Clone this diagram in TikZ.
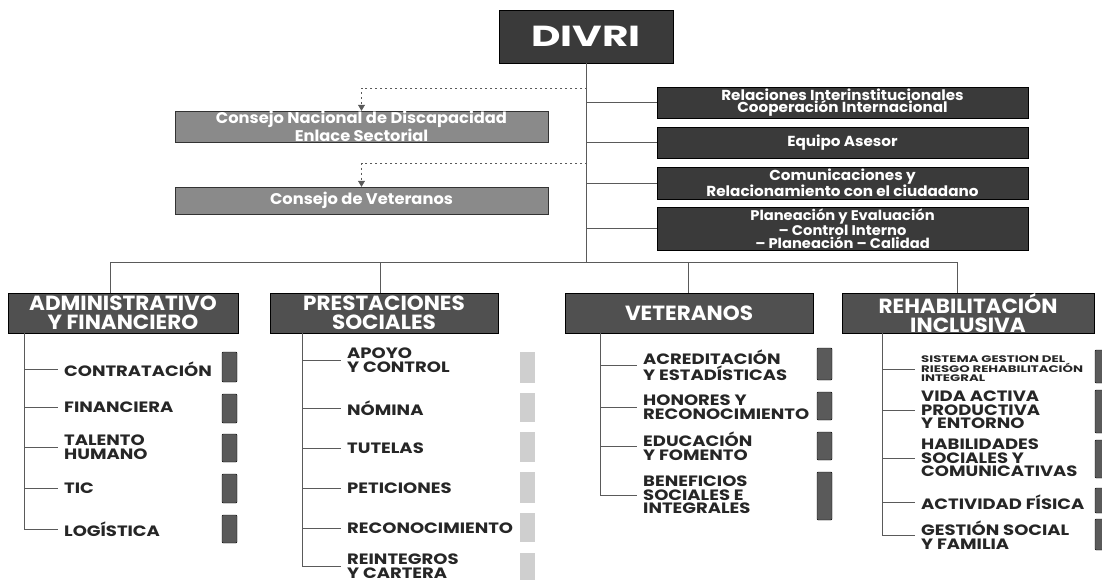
\documentclass[tikz,border=0pt]{standalone}
\usepackage{fontspec}
\setmainfont{Poppins}
\newfontfamily\lblfont[FakeStretch=1.2]{Poppins}
\newfontfamily\widefont[FakeStretch=1.4]{Poppins}
\newfontfamily\hdrfont[FakeStretch=1.05]{Poppins}
\newfontfamily\topfont[FakeStretch=1.4]{Poppins}
\usetikzlibrary{arrows.meta}
\definecolor{boxdark}{HTML}{3A3A3A}
\definecolor{boxmid}{HTML}{505050}
\definecolor{boxgray}{HTML}{8A8A8A}
\definecolor{tabdark}{HTML}{5A5A5A}
\definecolor{tablt}{HTML}{CFCFCF}
\definecolor{linec}{HTML}{5A5A5A}
\tikzset{
  darkbox/.style={draw=black, fill=boxdark, text=white, inner sep=0pt, align=center,
    font=\hdrfont\bfseries\fontsize{14.5}{12.5}\selectfont},
  graybox/.style={draw=black!80, fill=boxgray, text=white, inner sep=0pt, align=center,
    font=\hdrfont\bfseries\fontsize{15.5}{13}\selectfont},
  hdrbox/.style={draw=black, fill=boxmid, text=white, inner sep=0pt, align=center,
    minimum height=40pt, font=\hdrfont\bfseries\fontsize{20.5}{19}\selectfont},
  lbl/.style={anchor=west, inner xsep=6pt, inner ysep=0pt, align=left, text=black!85,
    font=\lblfont\bfseries\fontsize{15}{13.5}\selectfont},
  smalllbl/.style={lbl, font=\widefont\bfseries\fontsize{9.5}{9.5}\selectfont},
  tabd/.style={draw=black, fill=tabdark, inner sep=0pt, minimum width=15pt, rounded corners=1pt},
  tabl/.style={draw=none, fill=tablt, inner sep=0pt, minimum width=15pt},
  conn/.style={draw=linec, line width=0.7pt},
  dasharr/.style={draw=linec, line width=0.7pt, dash pattern=on 2pt off 3pt,
    -{Triangle[length=6pt,width=7pt]}},
}
\begin{document}
\begin{tikzpicture}[x=1pt,y=-1pt]
\useasboundingbox (0,0) rectangle (1102,583);
% top
\node[darkbox, minimum width=174pt, minimum height=53pt, font=\topfont\bfseries\fontsize{29}{29}\selectfont] (divri) at (586,36.5) {DIVRI};
% right boxes
\node[darkbox, minimum width=371pt, minimum height=31pt] (r1) at (842.5,102.5) {Relaciones Interinstitucionales\\Cooperación Internacional};
\node[darkbox, minimum width=371pt, minimum height=31pt] (r2) at (842.5,142.5) {Equipo Asesor};
\node[darkbox, minimum width=371pt, minimum height=32pt] (r3) at (842.5,183) {Comunicaciones y\\Relacionamiento con el ciudadano};
\node[darkbox, minimum width=371pt, minimum height=43pt, font=\hdrfont\bfseries\fontsize{14}{11.5}\selectfont] (r4) at (842.5,228.5) {Planeación y Evaluación\\– Control Interno\\– Planeación – Calidad};
% left gray boxes
\node[graybox, minimum width=373pt, minimum height=31pt] (c1) at (361.5,126.5) {Consejo Nacional de Discapacidad\\Enlace Sectorial};
\node[graybox, minimum width=373pt, minimum height=27pt] (c2) at (361.5,200.5) {Consejo de Veteranos};
% category headers
\node[hdrbox, minimum width=230pt] (h1) at (123,313) {ADMINISTRATIVO\\Y FINANCIERO};
\node[hdrbox, minimum width=228pt] (h2) at (384,313) {PRESTACIONES\\SOCIALES};
\node[hdrbox, minimum width=248pt] (h3) at (689,313) {VETERANOS};
\node[hdrbox, minimum width=252pt] (h4) at (968,313) {REHABILITACIÓN\\INCLUSIVA};
% trunk and bus
\coordinate (busL) at (110,262);
\coordinate (busR) at (957,262);
\coordinate (drop2) at (380,262);
\coordinate (drop3) at (688,262);
\coordinate (k1) at (587,88);
\coordinate (k2) at (587,163);
\draw[conn] (divri.south) -- (divri.south |- busL);
\draw[conn] (busL) -- (busR);
\draw[conn] (busL) -- (busL |- h1.north);
\draw[conn] (drop2) -- (drop2 |- h2.north);
\draw[conn] (drop3) -- (drop3 |- h3.north);
\draw[conn] (busR) -- (busR |- h4.north);
\foreach \r in {r1,r2,r3,r4} \draw[conn] (\r.west -| divri.south) -- (\r.west);
\draw[dasharr] (k1) -| (c1.north);
\draw[dasharr] (k2) -| (c2.north);
% ---- Administrativo
\coordinate (t1) at (24,333);
\node[lbl] (a1) at (58,369) {CONTRATACIÓN};
\node[lbl] (a2) at (58,407) {FINANCIERA};
\node[lbl] (a3) at (58,447) {TALENTO\\HUMANO};
\node[lbl] (a4) at (58,488) {TIC};
\node[lbl] (a5) at (58,529) {LOGÍSTICA};
\foreach \n in {a1,a2,a3,a4,a5} \draw[conn] (t1) |- (\n.west);
\node[tabd, minimum height=30pt] (ta1) at (229.5,367) {};
\node[tabd, minimum height=29pt] (ta2) at (229.5,408.5) {};
\node[tabd, minimum height=28pt] (ta3) at (229.5,448) {};
\node[tabd, minimum height=29pt] (ta4) at (229.5,488.5) {};
\node[tabd, minimum height=28pt] (ta5) at (229.5,529) {};
% ---- Prestaciones
\coordinate (t2) at (302,333);
\node[lbl] (p1) at (341,360) {APOYO\\Y CONTROL};
\node[lbl] (p2) at (341,408) {NÓMINA};
\node[lbl] (p3) at (341,448) {TUTELAS};
\node[lbl] (p4) at (341,488) {PETICIONES};
\node[lbl] (p5) at (341,528) {RECONOCIMIENTO};
\node[lbl] (p6) at (341,566) {REINTEGROS\\Y CARTERA};
\foreach \n in {p1,p2,p3,p4,p5,p6} \draw[conn] (t2) |- (\n.west);
\node[tabl, minimum height=31pt] (tp1) at (527.5,367.5) {};
\node[tabl, minimum height=29pt] (tp2) at (527.5,407.5) {};
\node[tabl, minimum height=30pt] (tp3) at (527.5,447) {};
\node[tabl, minimum height=31pt] (tp4) at (527.5,487.5) {};
\node[tabl, minimum height=29pt] (tp5) at (527.5,527.5) {};
\node[tabl, minimum height=27pt] (tp6) at (527.5,566.5) {};
% ---- Veteranos
\coordinate (t3) at (600,333);
\node[lbl] (v1) at (637,365) {ACREDITACIÓN\\Y ESTADÍSTICAS};
\node[lbl] (v2) at (637,407) {HONORES Y\\RECONOCIMIENTO};
\node[lbl] (v3) at (637,446) {EDUCACIÓN\\Y FOMENTO};
\node[lbl] (v4) at (637,495) {BENEFICIOS\\SOCIALES E\\INTEGRALES};
\foreach \n in {v1,v2,v3,v4} \draw[conn] (t3) |- (\n.west);
\node[tabd, minimum height=32pt] (tv1) at (824.5,364) {};
\node[tabd, minimum height=28pt] (tv2) at (824.5,406) {};
\node[tabd, minimum height=28pt] (tv3) at (824.5,446) {};
\node[tabd, minimum height=48pt] (tv4) at (824.5,496) {};
% ---- Rehabilitacion
\coordinate (t4) at (882,333);
\node[smalllbl] (e1) at (915,369) {SISTEMA GESTION DEL\\RIESGO REHABILITACIÓN\\INTEGRAL};
\node[lbl] (e2) at (915,410) {VIDA ACTIVA\\PRODUCTIVA\\Y ENTORNO};
\node[lbl] (e3) at (915,458) {HABILIDADES\\SOCIALES Y\\COMUNICATIVAS};
\node[lbl] (e4) at (915,502) {ACTIVIDAD FÍSICA};
\node[lbl] (e5) at (915,535) {GESTIÓN SOCIAL\\Y FAMILIA};
\foreach \n in {e1,e2,e3,e4,e5} \draw[conn] (t4) |- (\n.west);
\node[tabd, minimum height=33pt] (te1) at (1102.5,366.5) {};
\node[tabd, minimum height=43pt] (te2) at (1102.5,411.5) {};
\node[tabd, minimum height=38pt] (te3) at (1102.5,459) {};
\node[tabd, minimum height=25pt] (te4) at (1102.5,500.5) {};
\node[tabd, minimum height=31pt] (te5) at (1102.5,534.5) {};
\end{tikzpicture}
\end{document}
